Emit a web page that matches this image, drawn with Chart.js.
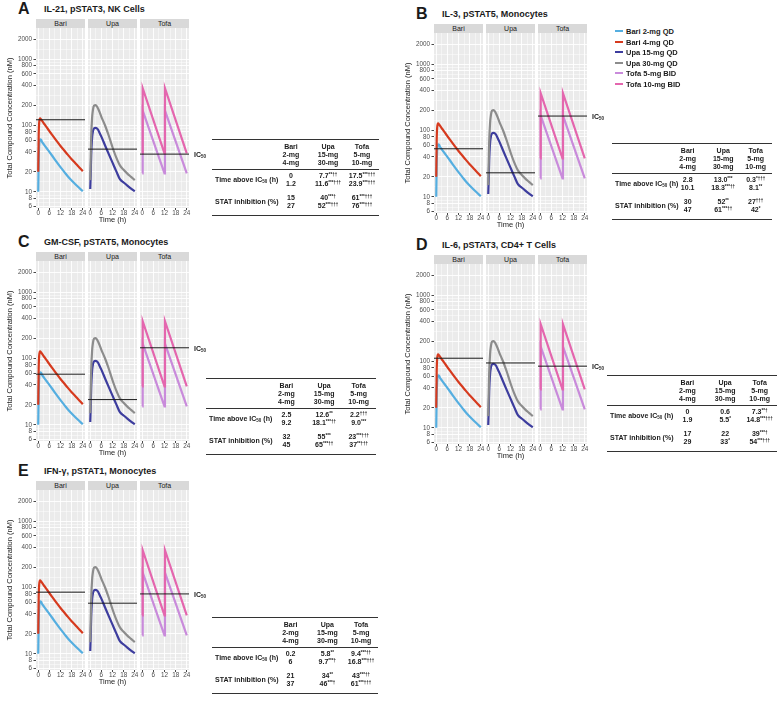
<!DOCTYPE html>
<html>
<head>
<meta charset="utf-8">
<script src="https://cdn.jsdelivr.net/npm/chart.js@4.4.0/dist/chart.umd.min.js"></script>
<style>
  html, body { margin: 0; padding: 0; background: #fff; }
  body { width: 778px; height: 704px; position: relative; overflow: hidden;
         font-family: "Liberation Sans", Arial, sans-serif; color: #1a1a1a; }
  .abs { position: absolute; white-space: nowrap; }
  .strip { position: absolute; background: #d9d9d9; font-size: 7px; line-height: 9px; height: 9px;
           text-align: center; color: #1a1a1a; }
  .letter { font-size: 16px; font-weight: bold; }
  .ptitle { font-size: 9px; font-weight: bold; transform: translateY(-50%); }
  .tbl { position: absolute; }
  .rule { position: absolute; left: 0; right: 0; height: 0; border-top: 1px solid #333; }
  .cell { position: absolute; font-size: 7px; font-weight: bold; white-space: nowrap; line-height: 8px;
          transform: translate(-50%, -50%); }
  .rowlab { position: absolute; font-size: 7px; font-weight: bold; white-space: nowrap; line-height: 8px;
            transform: translateY(-50%); }
  sup { font-size: 4.5px; vertical-align: 2.5px; line-height: 0; }
  sub { font-size: 4.5px; vertical-align: -1px; line-height: 0; }
  .ic50 { font-size: 7px; font-weight: bold; transform: translateY(-50%); }
  .leg { font-size: 7.5px; font-weight: bold; transform: translateY(-50%); }
  .legkey { position: absolute; width: 8px; height: 2px; }
</style>
</head>
<body>
<script>
// ---- data ----
const bariTime = [0, 0.25, 0.5, 1, 1.5, 2, 3, 4, 6, 8, 10, 12, 14, 16, 18, 20, 22, 24];
const bari2mg  = [10, 30, 50, 62, 61, 57, 52, 47.5, 40, 33.5, 28, 23.5, 20, 17, 14.8, 13, 11.5, 10.2];
const bari4mg  = [20, 70, 110, 128, 124, 118, 108, 99, 82, 69, 58, 49, 42, 36, 31, 27, 23.5, 20.5];

const upaTime  = [0, 0.25, 0.5, 1, 1.5, 2, 3, 4, 5, 6, 8, 10, 12, 14, 16, 18, 20, 22, 24];
const upa15mg  = [11, 18, 35, 65, 83, 90, 92, 88, 78, 68, 50, 37, 27.5, 20.5, 15.5, 13.8, 12.4, 11.2, 10.2];
const upa30mg  = [15, 30, 65, 130, 175, 198, 203, 185, 160, 135, 100, 70, 47, 33, 25, 21.5, 18.8, 16.8, 15];

const tofaTime = [0, 0.25, 12, 12.25, 24];
const tofa5mg  = [19, 168, 19, 168, 19];
const tofa10mg = [38, 365, 38, 365, 38];

const seriesLabels = ['Bari 2-mg QD', 'Bari 4-mg QD', 'Upa 15-mg QD', 'Upa 30-mg QD', 'Tofa 5-mg BID', 'Tofa 10-mg BID'];
const seriesColors = ['#55aee0', '#d63a1e', '#3d3d9e', '#8c8c8c', '#c98bdb', '#e466ae'];

const panelLetters = ['A', 'B', 'C', 'D', 'E'];
const panelTitles = ['IL-21, pSTAT3, NK Cells', 'IL-3, pSTAT5, Monocytes', 'GM-CSF, pSTAT5, Monocytes',
                     'IL-6, pSTAT3, CD4+ T Cells', 'IFN-γ, pSTAT1, Monocytes'];
const ic50Bari = [122, 53, 58, 112, 85];
const ic50Upa  = [44, 23, 24, 95, 58];
const ic50Tofa = [37, 165, 145, 85, 80];

const facetNames = ['Bari', 'Upa', 'Tofa'];
const yTickValues = [6, 8, 10, 20, 40, 60, 80, 100, 200, 400, 600, 800, 1000, 2000];
const xTickValues = [0, 6, 12, 18, 24];

const doseHeader = [['Bari', '2-mg', '4-mg'], ['Upa', '15-mg', '30-mg'], ['Tofa', '5-mg', '10-mg']];
const timeAbove = [
  [['0', '1.2'], ['7.7**††', '11.6***†††'], ['17.5***†††', '23.9***†††']],
  [['2.8', '10.1'], ['13.0***', '18.3***††'], ['0.3*†††', '8.1**']],
  [['2.5', '9.2'], ['12.6**', '18.1***††'], ['2.2†††', '9.0***']],
  [['0', '1.9'], ['0.6', '5.5*'], ['7.3**†', '14.8***†††']],
  [['0.2', '6'], ['5.8**', '9.7***†'], ['9.4***††', '16.8***†††']]
];
const statInhibition = [
  [['15', '27'], ['40***†', '52***†††'], ['61***†††', '76***†††']],
  [['30', '47'], ['52**', '61***††'], ['27†††', '42*']],
  [['32', '45'], ['55***', '65***††'], ['23***†††', '37**†††']],
  [['17', '29'], ['22', '33*'], ['39***†', '54***†††']],
  [['21', '37'], ['34**', '46***†'], ['43***††', '61***†††']]
];

// ---- layout ----
const panelPos = [[36, 19], [434, 24], [36, 252], [434, 255], [36, 481]];
const tablePos = [[212, 139, 167], [612, 143, 160], [206, 378, 170], [607, 375, 170], [212, 617, 166]];
const FW = 49, STEP = 52, STRIP = 9, PH = 180, XH = 16;
const FONT = '"Liberation Sans", Arial, sans-serif';

const yGrid = yTickValues.flatMap((v, i) => i === 0 ? [v] : [Math.sqrt(v * yTickValues[i - 1]), v]);
const xGrid = [0, 3, 6, 9, 12, 15, 18, 21, 24];

const bgPlugin = {
  id: 'panelBg',
  beforeDraw(chart) {
    const a = chart.chartArea, c = chart.ctx;
    c.save();
    c.fillStyle = '#ebebeb';
    c.fillRect(a.left, a.top, a.right - a.left, a.bottom - a.top);
    c.restore();
  }
};

function el(cls, html, left, top, extra) {
  const d = document.createElement('div');
  d.className = cls;
  d.innerHTML = html;
  d.style.left = left + 'px';
  d.style.top = top + 'px';
  if (extra) Object.assign(d.style, extra);
  document.body.appendChild(d);
  return d;
}

function pts(xs, ys) { return xs.map((x, i) => ({ x, y: ys[i] })); }

function line(data, color, width, smooth) {
  return { data, borderColor: color, borderWidth: width, pointRadius: 0, fill: false,
           cubicInterpolationMode: smooth ? 'monotone' : 'default', tension: 0 };
}

function facetChart(px, py, f, datasets) {
  const yW = f === 0 ? 36 : 0;
  const padL = f === 0 ? 0 : 6, padR = 6;
  const w = padL + yW + FW + padR, h = PH + XH;
  const cv = document.createElement('canvas');
  cv.width = w; cv.height = h;
  cv.style.cssText = `position:absolute;left:${px + f * STEP - padL - yW}px;top:${py + STRIP}px;width:${w}px;height:${h}px`;
  document.body.appendChild(cv);
  const majorX = v => xTickValues.includes(v);
  const majorY = v => yTickValues.includes(v);
  return new Chart(cv, {
    type: 'line',
    data: { datasets },
    options: {
      responsive: false, animation: false, devicePixelRatio: 1,
      layout: { padding: { left: padL, right: padR, top: 0, bottom: 0 } },
      plugins: { legend: { display: false }, tooltip: { enabled: false } },
      scales: {
        x: {
          type: 'linear', min: -1.2, max: 25.2,
          afterBuildTicks: s => { s.ticks = xGrid.map(v => ({ value: v })); },
          afterFit: s => { s.height = XH; s.paddingLeft = 0; s.paddingRight = 0; },
          ticks: { autoSkip: false, maxRotation: 0, minRotation: 0, padding: 0.5, color: '#4d4d4d',
                   font: { family: FONT, size: 6.3, lineHeight: 1 },
                   callback: v => majorX(v) ? String(v) : '' },
          grid: { color: '#ffffff', lineWidth: c => majorX(c.tick.value) ? 0.9 : 0.45,
                  tickLength: 2, tickColor: c => majorX(c.tick.value) ? '#333333' : 'rgba(0,0,0,0)' },
          border: { display: false },
          title: { display: f === 1, text: 'Time (h)', color: '#1a1a1a', padding: 0,
                   font: { family: FONT, size: 7.5 } }
        },
        y: {
          type: 'logarithmic', min: 5.7, max: 2950,
          afterBuildTicks: s => { s.ticks = yGrid.map(v => ({ value: v })); },
          afterFit: s => { s.width = yW; s.paddingTop = 0; s.paddingBottom = 0; },
          ticks: { display: f === 0, autoSkip: false, padding: 1.5, color: '#4d4d4d',
                   font: { family: FONT, size: 6.3, lineHeight: 1 },
                   callback: v => majorY(v) ? String(v) : '' },
          grid: { color: '#ffffff', lineWidth: c => majorY(c.tick.value) ? 0.9 : 0.45,
                  drawTicks: f === 0, tickLength: 2.5,
                  tickColor: c => majorY(c.tick.value) ? '#333333' : 'rgba(0,0,0,0)' },
          border: { display: false },
          title: { display: f === 0, text: 'Total Compound Concentration (nM)', color: '#1a1a1a',
                   padding: { top: 5.5, bottom: 0 }, font: { family: FONT, size: 7.5 } }
        }
      }
    },
    plugins: [bgPlugin]
  });
}

function cellHtml(s) {
  const m = s.match(/^([\d.]+)(.*)$/);
  return m[2] ? `${m[1]}<sup>${m[2]}</sup>` : m[1];
}

function drawTable(p) {
  const [tl, tt, tw] = tablePos[p];
  const t = document.createElement('div');
  t.className = 'tbl';
  t.style.cssText = `left:${tl}px;top:${tt}px;width:${tw}px;height:80px`;
  document.body.appendChild(t);
  [0, 30, 76].forEach(y => {
    const r = document.createElement('div');
    r.className = 'rule';
    r.style.top = y + 'px';
    t.appendChild(r);
  });
  const centers = [0.473, 0.695, 0.898].map(c => c * tw);
  const add = (cls, html, x, y) => {
    const d = document.createElement('div');
    d.className = cls; d.innerHTML = html;
    d.style.left = x + 'px'; d.style.top = y + 'px';
    t.appendChild(d);
  };
  doseHeader.forEach((col, j) => col.forEach((txt, k) => add('cell', txt, centers[j], 8 + k * 8)));
  add('rowlab', 'Time above IC<sub>50</sub> (h)', 3, 40.5);
  add('rowlab', 'STAT inhibition (%)', 3, 62.5);
  for (let j = 0; j < 3; j++) {
    timeAbove[p][j].forEach((s, k) => add('cell', cellHtml(s), centers[j], 37 + k * 7.5));
    statInhibition[p][j].forEach((s, k) => add('cell', cellHtml(s), centers[j], 59 + k * 7.5));
  }
}

// ---- build panels ----
panelLetters.forEach((letter, p) => {
  const [px, py] = panelPos[p];
  el('abs letter', letter, px - 18, py - 19);
  el('abs ptitle', panelTitles[p], px + 8, py - 10);
  facetNames.forEach((name, f) => {
    const s = el('strip', name, px + f * STEP, py);
    s.style.width = FW + 'px';
  });
  const hl = v => line([{ x: -1.2, y: v }, { x: 25.2, y: v }], '#1a1a1a', 1, false);
  facetChart(px, py, 0, [hl(ic50Bari[p]),
    line(pts(bariTime, bari4mg), seriesColors[1], 2.2, true),
    line(pts(bariTime, bari2mg), seriesColors[0], 2.2, true)]);
  facetChart(px, py, 1, [hl(ic50Upa[p]),
    line(pts(upaTime, upa30mg), seriesColors[3], 2.2, true),
    line(pts(upaTime, upa15mg), seriesColors[2], 2.2, true)]);
  const tofa = facetChart(px, py, 2, [hl(ic50Tofa[p]),
    line(pts(tofaTime, tofa10mg), seriesColors[5], 2.2, false),
    line(pts(tofaTime, tofa5mg), seriesColors[4], 2.2, false)]);
  const yPix = tofa.scales.y.getPixelForValue(ic50Tofa[p]);
  el('abs ic50', 'IC<sub>50</sub>', px + 2 * STEP + FW + 5, py + STRIP + yPix);
  drawTable(p);
});

// ---- legend ----
seriesLabels.forEach((lab, i) => {
  const y = 31 + i * 10.6;
  const k = el('legkey', '', 615, y - 1);
  k.style.background = seriesColors[i];
  el('abs leg', lab, 626, y);
});
</script>
</body>
</html>
